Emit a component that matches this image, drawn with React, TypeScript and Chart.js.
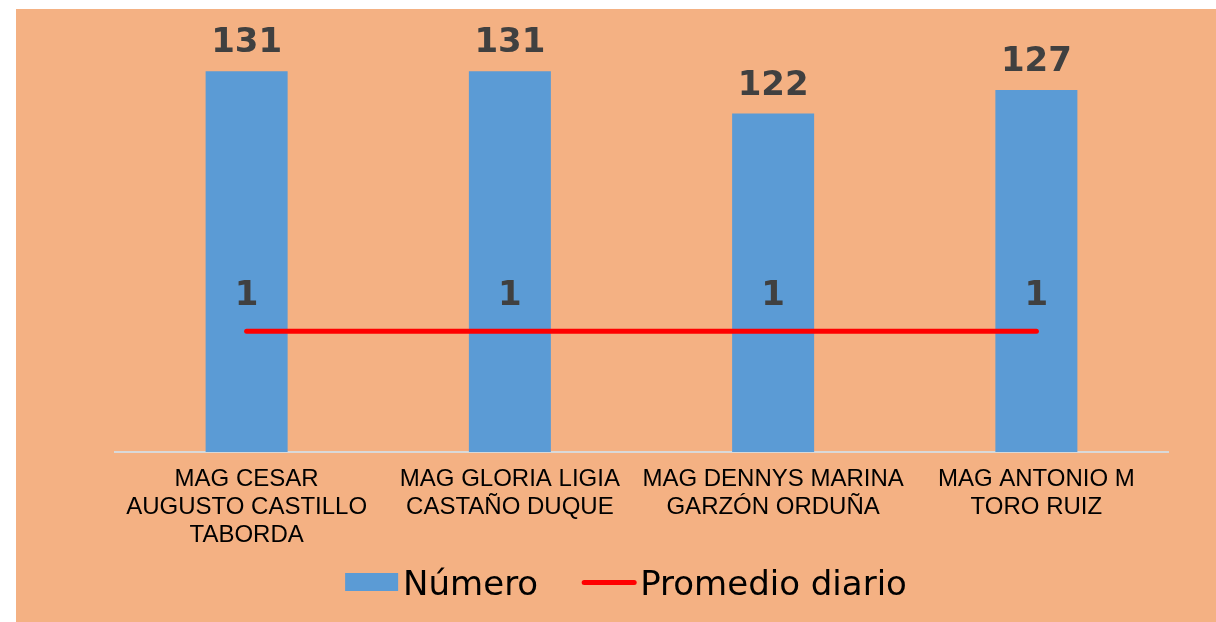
import React, { useEffect, useRef } from "react";
import { Chart, registerables } from "chart.js";

Chart.register(...registerables);

const categories: string[][] = [
  ["MAG CESAR", "AUGUSTO CASTILLO", "TABORDA"],
  ["MAG GLORIA LIGIA", "CASTAÑO DUQUE"],
  ["MAG DENNYS MARINA", "GARZÓN ORDUÑA"],
  ["MAG ANTONIO M", "TORO RUIZ"],
];
const numero: number[] = [131, 131, 122, 127];
const promedioDiario: number[] = [1, 1, 1, 1];
const seriesNames: string[] = ["Número", "Promedio diario"];

const BG = "#F4B183";
const BLUE = "#5B9BD5";
const RED = "#FF0000";
const LABEL = "#404040";

const valueLabels = {
  id: "valueLabels",
  afterDatasetsDraw(chart: any) {
    const ctx = chart.ctx;
    ctx.save();
    ctx.fillStyle = LABEL;
    ctx.font = "bold 34px 'DejaVu Sans', Verdana, sans-serif";
    ctx.textAlign = "center";
    ctx.textBaseline = "alphabetic";
    chart.data.datasets.forEach((ds: any, di: number) => {
      const meta = chart.getDatasetMeta(di);
      const gap = ds.type === "line" ? 26 : 19;
      meta.data.forEach((el: any, i: number) => {
        ctx.fillText(String(ds.data[i]), el.x, el.y - gap);
      });
    });
    ctx.restore();
  },
};

const customLegend = {
  id: "customLegend",
  afterDraw(chart: any) {
    const ctx = chart.ctx;
    ctx.save();
    ctx.font = "34px 'DejaVu Sans', Verdana, sans-serif";
    ctx.fillStyle = "#000000";
    ctx.textBaseline = "alphabetic";
    ctx.textAlign = "left";
    const boxW = 53;
    const gapText = 5;
    const itemGap = 44;
    const names = seriesNames;
    const widths = names.map((n: string) => ctx.measureText(n).width);
    const total = boxW + gapText + widths[0] + itemGap + boxW + gapText + widths[1];
    let x = chart.width / 2 + 10 - total / 2;
    const baseline = 586;
    // item 1: bar box
    ctx.fillStyle = BLUE;
    ctx.fillRect(x, 564, boxW, 18);
    ctx.fillStyle = "#000000";
    ctx.fillText(names[0], x + boxW + gapText, baseline);
    x += boxW + gapText + widths[0] + itemGap;
    // item 2: line
    ctx.strokeStyle = RED;
    ctx.lineWidth = 5;
    ctx.lineCap = "round";
    ctx.beginPath();
    ctx.moveTo(x + 2, 573.5);
    ctx.lineTo(x + boxW - 1, 573.5);
    ctx.stroke();
    ctx.fillText(names[1], x + boxW + gapText, baseline);
    ctx.restore();
  },
};

export default function App() {
  const ref = useRef<HTMLCanvasElement>(null);
  useEffect(() => {
    if (!ref.current) return;
    const chart = new Chart(ref.current, {
      type: "bar",
      data: {
        labels: categories,
        datasets: [
          {
            type: "line",
            label: seriesNames[1],
            data: promedioDiario,
            yAxisID: "y1",
            borderColor: RED,
            backgroundColor: RED,
            borderWidth: 5,
            borderCapStyle: "round",
            pointRadius: 0,
            order: 0,
          } as any,
          {
            type: "bar",
            label: seriesNames[0],
            data: numero,
            yAxisID: "y",
            backgroundColor: BLUE,
            borderWidth: 0,
            categoryPercentage: 1,
            barPercentage: 0.3115,
            order: 1,
          } as any,
        ],
      },
      options: {
        animation: false,
        responsive: false,
        maintainAspectRatio: false,
        layout: { padding: { left: 99, right: 48, top: 20, bottom: 73 } },
        plugins: {
          legend: { display: false },
          tooltip: { enabled: false },
        },
        scales: {
          x: {
            grid: { display: false, drawTicks: false },
            border: { display: true, color: "#D9D9D9", width: 2 },
            ticks: {
              color: "#000000",
              padding: 13,
              maxRotation: 0,
              autoSkip: false,
              font: { family: "'Liberation Sans', Arial, sans-serif", size: 24, lineHeight: 1.17 },
            },
            afterFit: (scale: any) => {
              scale.height = 97;
            },
          },
          y: { display: false, min: 50, max: 140 },
          y1: { display: false, min: 0, max: 3.5, position: "right" },
        },
      },
      plugins: [valueLabels, customLegend],
    } as any);
    return () => chart.destroy();
  }, []);
  return (
    <div style={{ position: "fixed", left: 16, top: 9, width: 1200, height: 613, background: BG }}>
      <canvas
        ref={ref}
        width={1200}
        height={613}
        style={{ display: "block", width: 1200, height: 613 }}
      />
    </div>
  );
}
